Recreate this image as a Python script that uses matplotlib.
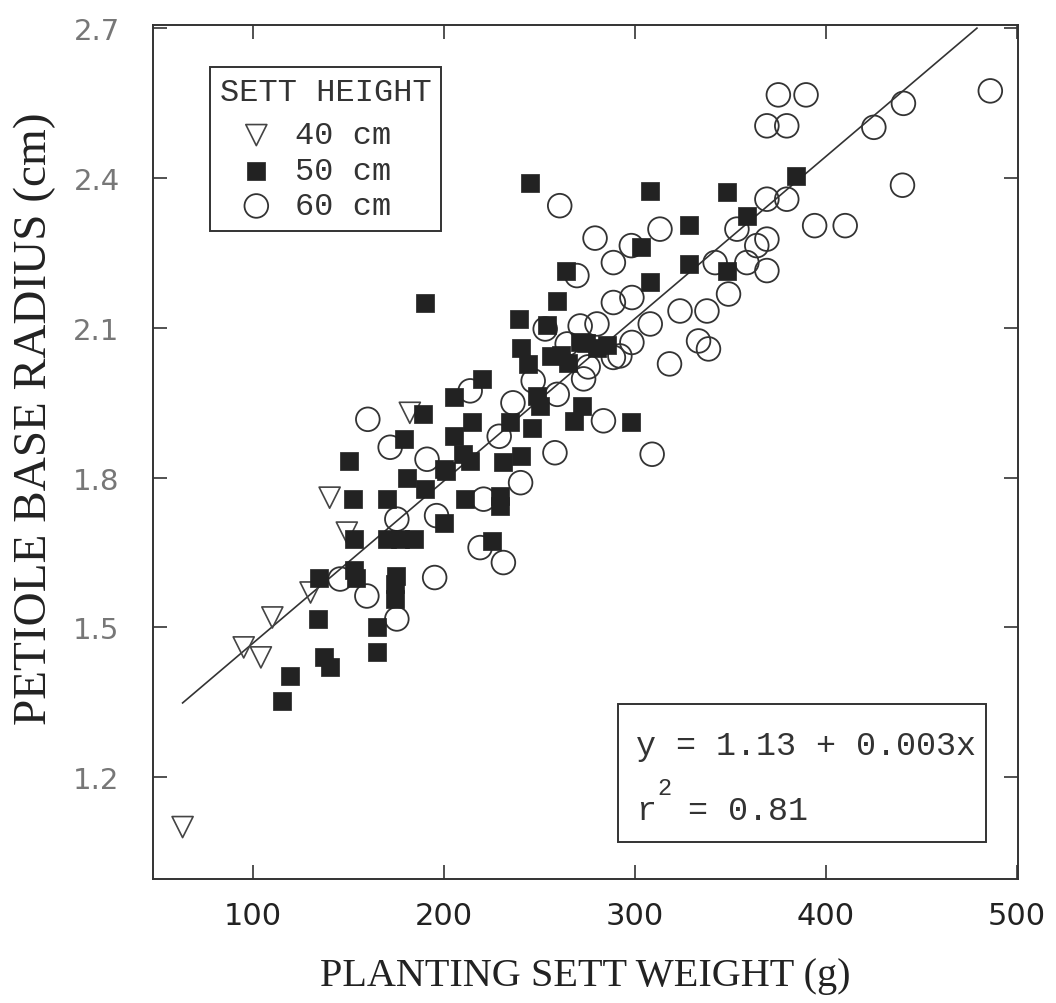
import matplotlib
matplotlib.use("Agg")
import matplotlib.pyplot as plt
from matplotlib.patches import Rectangle
import numpy as np

# Data
x40 = [63, 95, 104, 110, 130, 140, 149, 182]
y40 = [1.10, 1.46, 1.44, 1.52, 1.57, 1.76, 1.69, 1.93]

x50 = [115, 119, 137, 140, 134, 134.5, 150, 152.5, 153, 154, 153, 165, 165,
       174, 174, 175, 170, 170, 177, 184, 180.5, 190, 201, 211, 200, 229, 229,
       225, 213.6, 210, 231, 240, 205, 179, 189, 205, 214.5, 234.6, 246, 220,
       248.5, 250, 272, 268, 298, 190, 239, 254, 259, 264, 245, 240, 244, 256,
       261, 265, 271, 274, 280, 285, 303, 308, 308, 328, 328, 348, 348, 358.5,
       384, 200]
y50 = [1.353, 1.403, 1.44, 1.42, 1.517, 1.60, 1.834, 1.757, 1.677, 1.60, 1.615,
       1.50, 1.45, 1.587, 1.557, 1.603, 1.757, 1.677, 1.677, 1.677, 1.80, 1.777,
       1.814, 1.757, 1.71, 1.764, 1.744, 1.674, 1.834, 1.847, 1.831, 1.844,
       1.884, 1.877, 1.927, 1.961, 1.911, 1.911, 1.90, 1.998, 1.964, 1.944,
       1.944, 1.914, 1.912, 2.151, 2.118, 2.105, 2.155, 2.215, 2.39, 2.06,
       2.028, 2.044, 2.045, 2.03, 2.071, 2.07, 2.06, 2.065, 2.262, 2.192, 2.374,
       2.306, 2.228, 2.373, 2.215, 2.325, 2.405, 1.817]

x60 = [486, 375, 389.5, 369, 379.4, 440.5, 425, 440, 394, 410, 369, 379.4,
       260.5, 313, 279, 298, 288.6, 269.5, 369, 353.3, 363.7, 358.5, 341.9, 369,
       348.9, 337.6, 323.5, 307.9, 288.6, 298.3, 333.2, 338.4, 318, 288.6, 298.3,
       280, 273, 283.4, 308.9, 258, 240, 220.6, 218.8, 231, 195, 175.2, 159.5,
       145.5, 175.2, 196, 191, 171.7, 160, 228.8, 246.6, 259.2, 264.4, 252.9,
       271.2, 292, 275.4, 213.6, 236]
y60 = [2.575, 2.567, 2.567, 2.505, 2.505, 2.55, 2.502, 2.386, 2.305, 2.305,
       2.358, 2.358, 2.345, 2.298, 2.28, 2.265, 2.231, 2.205, 2.278, 2.298,
       2.265, 2.231, 2.231, 2.215, 2.168, 2.134, 2.134, 2.108, 2.151, 2.161,
       2.074, 2.058, 2.028, 2.041, 2.071, 2.108, 1.998, 1.914, 1.847, 1.85,
       1.79, 1.757, 1.66, 1.63, 1.60, 1.517, 1.563, 1.597, 1.717, 1.724, 1.837,
       1.861, 1.917, 1.883, 1.994, 1.967, 2.068, 2.098, 2.104, 2.044, 2.022,
       1.974, 1.95]

# regression line as drawn in the figure
fit_x = [63, 479]
fit_b, fit_m = 1.144, 0.00325

x_ticks = [100, 200, 300, 400, 500]
y_ticks = [1.2, 1.5, 1.8, 2.1, 2.4, 2.7]

MONO = "Liberation Mono"
SERIF = "Liberation Serif"
INK = "#222222"

fig = plt.figure(figsize=(10.56, 10.04), dpi=100)
ax = fig.add_axes([153 / 1056, 1 - 880 / 1004, 865 / 1056, 854 / 1004])

ax.scatter(x60, y60, s=290, marker="o", facecolors="none", edgecolors="#333333",
           linewidths=1.3, label="60 cm", zorder=2)
ax.scatter(x40, y40, s=230, marker="v", facecolors="none", edgecolors="#444444",
           linewidths=1.2, label="40 cm", zorder=3)
ax.scatter(x50, y50, s=150, marker="s", facecolors=INK, edgecolors=INK,
           linewidths=0.5, label="50 cm", zorder=4)

fx = np.array(fit_x)
ax.plot(fx, fit_b + fit_m * fx, color="#333333", lw=1.2, zorder=1)

ax.set_xlim(47.5, 500.5)
ax.set_ylim(0.996, 2.707)
ax.set_xticks(x_ticks)
ax.set_xticklabels([str(v) for v in x_ticks], family="DejaVu Sans", fontsize=22, color=INK)
ax.set_yticks(y_ticks)
ax.set_yticklabels([f"{v:.1f}" for v in y_ticks], family="DejaVu Sans", fontsize=21,
                   color="#777777")
ax.tick_params(direction="in", length=10, width=1.2, top=True, right=True,
               color="#333333")
ax.tick_params(axis="x", pad=16)
ax.tick_params(axis="y", pad=24)
for sp in ax.spines.values():
    sp.set_linewidth(1.4)
    sp.set_color("#333333")

ax.set_xlabel("PLANTING SETT WEIGHT (g)", family=SERIF, fontsize=29, color=INK)
ax.set_ylabel("PETIOLE BASE RADIUS (cm)", family=SERIF, fontsize=34, color=INK)
ax.xaxis.set_label_coords(0.5, -0.091)
ax.yaxis.set_label_coords(-0.112, 0.54)

# legend
h, l = ax.get_legend_handles_labels()
order = [1, 2, 0]
leg = ax.legend([h[i] for i in order], [l[i] for i in order], title="SETT HEIGHT",
                loc="upper left", bbox_to_anchor=(57 / 865, 1 - 42 / 854),
                borderaxespad=0, prop={"family": MONO, "size": 23},
                title_fontproperties={"family": MONO, "size": 23},
                alignment="left", fancybox=False, framealpha=1,
                edgecolor="#333333", handlelength=2.3, handletextpad=0.05,
                labelspacing=0.17, borderpad=0.3, scatterpoints=1)
leg._legend_box.sep = 10  # a bit more room under the title
leg.get_frame().set_linewidth(1.4)
for t in leg.get_texts():
    t.set_color("#333333")
leg.get_title().set_color("#333333")

# equation box
ax.add_patch(Rectangle((0.5376, 0.0433), 0.963 - 0.5376, 0.2049 - 0.0433,
                       transform=ax.transAxes, fill=False, lw=1.4,
                       edgecolor="#333333", zorder=5))
ax.text(0.5584, 0.1464, "y = 1.13 + 0.003x", transform=ax.transAxes,
        family=MONO, fontsize=24, color="#333333", va="baseline")
ax.text(0.5584, 0.0703, "r", transform=ax.transAxes,
        family=MONO, fontsize=24, color="#333333", va="baseline")
ax.text(0.5827, 0.0995, "2", transform=ax.transAxes,
        family=MONO, fontsize=17, color="#333333", va="baseline")
ax.text(0.6185, 0.0703, "= 0.81", transform=ax.transAxes,
        family=MONO, fontsize=24, color="#333333", va="baseline")

fig.savefig("out.png", dpi=100)
